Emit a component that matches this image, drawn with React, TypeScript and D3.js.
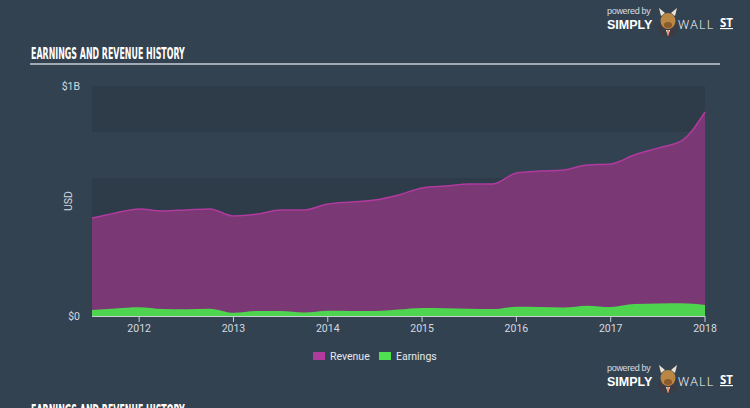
import React from "react";
import * as d3 from "d3";

const dates: number[] = [
  2011.5, 2011.75, 2012.0, 2012.25, 2012.5, 2012.75, 2013.0, 2013.25, 2013.5,
  2013.75, 2014.0, 2014.25, 2014.5, 2014.75, 2015.0, 2015.25, 2015.5, 2015.75,
  2016.0, 2016.25, 2016.5, 2016.75, 2017.0, 2017.25, 2017.5, 2017.75, 2018.0,
];
// billions USD
const revenue: number[] = [
  0.426, 0.448, 0.465, 0.457, 0.461, 0.465, 0.435, 0.443, 0.461, 0.461, 0.487,
  0.496, 0.504, 0.526, 0.557, 0.565, 0.574, 0.574, 0.622, 0.63, 0.635, 0.657,
  0.661, 0.7, 0.73, 0.761, 0.887,
];
const earnings: number[] = [
  0.026, 0.033, 0.038, 0.03, 0.029, 0.032, 0.014, 0.022, 0.022, 0.015, 0.023,
  0.022, 0.022, 0.028, 0.035, 0.034, 0.032, 0.03, 0.04, 0.039, 0.037, 0.045,
  0.039, 0.052, 0.054, 0.055, 0.048,
];
const yearTicks: number[] = [2012, 2013, 2014, 2015, 2016, 2017, 2018];
const yTickLabels: { v: number; label: string }[] = [
  { v: 0, label: "$0" },
  { v: 1, label: "$1B" },
];
const bands: number[] = [0.8, 0.4, 0.0];

const W = 750;
const H = 408;
const BG = "#334251";

function Logo({ x, y }: { x: number; y: number }) {
  return (
    <g transform={`translate(${x},${y})`}>
      <text x={0} y={6} fontSize={9} fill="#d8dde2" fontFamily="'Liberation Sans', sans-serif" letterSpacing={-0.3}>
        powered by
      </text>
      <text x={0} y={21} fontSize={12.5} fontWeight={700} fill="#ffffff" fontFamily="'Liberation Sans', sans-serif">
        SIMPLY
      </text>
      <g transform="translate(61,13)">
        <circle cx={0} cy={6} r={10} fill="#3b3c44" />
        <ellipse cx={0} cy={0} rx={7.5} ry={8} fill="#b98644" />
        <path d="M-7,-5 L-9,-13 L-3,-8 Z" fill="#ece4d2" />
        <path d="M7,-5 L9,-13 L3,-8 Z" fill="#ece4d2" />
        <ellipse cx={0} cy={4} rx={4} ry={3} fill="#8a5a2c" />
        <path d="M-2,9 L2,9 L0,15 Z" fill="#ffffff" />
        <path d="M-0.7,9 L0.7,9 L0.4,15 L-0.4,15 Z" fill="#e0562a" />
      </g>
      <text x={71} y={21} fontSize={12.5} fontWeight={300} fill="#ffffff" fontFamily="'Open Sans', sans-serif" letterSpacing={1.2}>
        WALL
      </text>
      <text x={113} y={19} fontSize={11.5} fontWeight={700} fill="#ffffff" fontFamily="'Open Sans', sans-serif" textDecoration="underline">
        ST
      </text>
    </g>
  );
}

function Title({ x, y }: { x: number; y: number }) {
  return (
    <text
      transform={`translate(${x},${y}) scale(0.55,1)`}
      fontSize={16}
      fontWeight={700}
      fill="#ffffff"
      fontFamily="'DejaVu Sans Condensed', 'Liberation Sans Narrow', sans-serif"
    >
      EARNINGS AND REVENUE HISTORY
    </text>
  );
}

export default function App() {
  const left = 92;
  const right = 705;
  const top = 86;
  const bottom = 316;

  const x = d3.scaleLinear().domain([2011.5, 2018.0]).range([left, right]);
  const y = d3.scaleLinear().domain([0, 1]).range([bottom, top]);

  const revArea = d3
    .area<number>()
    .x((_, i) => x(dates[i]))
    .y0(y(0))
    .y1((d) => y(d))
    .curve(d3.curveMonotoneX);
  const revLine = d3
    .line<number>()
    .x((_, i) => x(dates[i]))
    .y((d) => y(d))
    .curve(d3.curveMonotoneX);
  const earnArea = d3
    .area<number>()
    .x((_, i) => x(dates[i]))
    .y0(y(0))
    .y1((d) => y(d))
    .curve(d3.curveMonotoneX);

  return (
    <svg width={W} height={H} style={{ position: "absolute", left: 0, top: 0, display: "block" }}>
      <rect x={0} y={0} width={W} height={H} fill={BG} />
      <Logo x={607} y={8} />
      <Title x={31} y={59} />
      <line x1={30} x2={720} y1={64} y2={64} stroke="#c9cfd6" strokeWidth={1.5} />

      {bands.map((b) => (
        <rect key={b} x={left} width={right - left} y={y(b + 0.2)} height={y(b) - y(b + 0.2)} fill="#2e3b49" />
      ))}

      <path d={revArea(revenue) || ""} fill="#7a3874" />
      <path d={revLine(revenue) || ""} fill="none" stroke="#b03a9e" strokeWidth={1.5} />
      <path d={earnArea(earnings) || ""} fill="#4fd44f" />

      <line x1={left} x2={right} y1={bottom + 0.5} y2={bottom + 0.5} stroke="#c8cdd3" strokeWidth={1} />
      {yearTicks.map((t) => (
        <g key={t}>
          <line x1={x(t)} x2={x(t)} y1={bottom} y2={bottom + 6} stroke="#c8cdd3" strokeWidth={1} />
          <text x={x(t)} y={332} fontSize={10.5} fill="#d5dae0" textAnchor="middle" fontFamily="Roboto, sans-serif">
            {t}
          </text>
        </g>
      ))}
      {yTickLabels.map((t) => (
        <text key={t.label} x={80} y={y(t.v) + 4} fontSize={10.5} fill="#d5dae0" textAnchor="end" fontFamily="Roboto, sans-serif">
          {t.label}
        </text>
      ))}
      <text transform={`translate(72,${(top + bottom) / 2}) rotate(-90)`} fontSize={10.5} fill="#d5dae0" textAnchor="middle" fontFamily="Roboto, sans-serif">
        USD
      </text>

      <rect x={313} y={352} width={12} height={8} fill="#b03a9e" />
      <text x={330} y={360} fontSize={10.5} fill="#e6e9ec" fontFamily="Roboto, sans-serif">
        Revenue
      </text>
      <rect x={379} y={352} width={12} height={8} fill="#4fe04f" />
      <text x={396} y={360} fontSize={10.5} fill="#e6e9ec" fontFamily="Roboto, sans-serif">
        Earnings
      </text>

      <Logo x={607} y={365} />
      <Title x={31} y={416} />
    </svg>
  );
}
